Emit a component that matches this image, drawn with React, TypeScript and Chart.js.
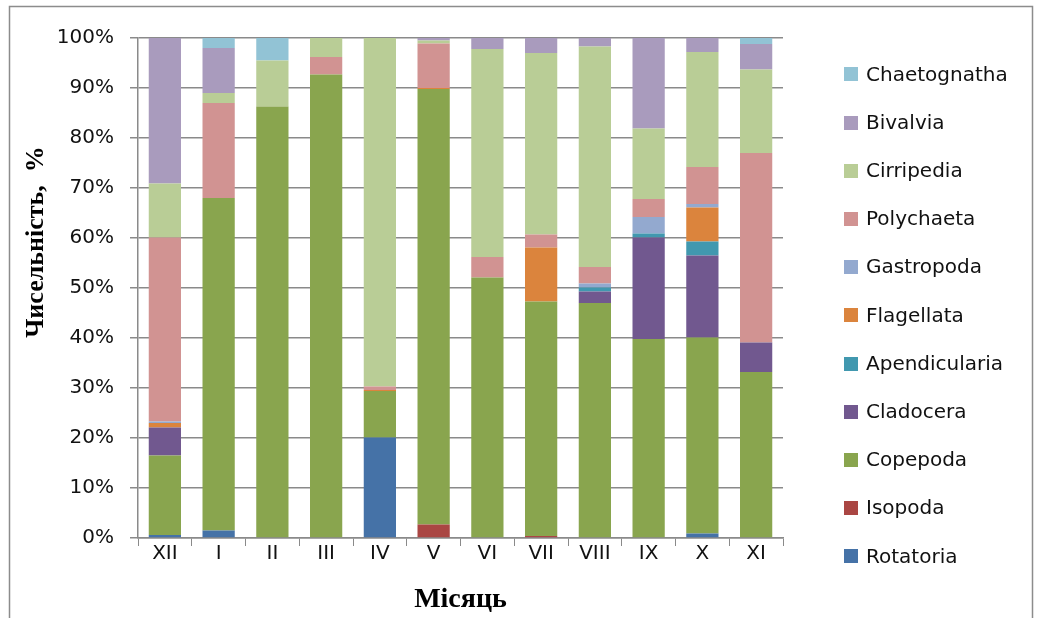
import React, { useEffect, useRef } from "react";
import { Chart, registerables } from "chart.js";

Chart.register(...registerables);

// Months of the sampling year, December through November
const months = ["XII", "I", "II", "III", "IV", "V", "VI", "VII", "VIII", "IX", "X", "XI"];

// Share of each taxon in total abundance, % (stacked bottom to top)
const rotatoria = [0.6, 1.5, 0, 0, 20.1, 0, 0, 0, 0, 0, 0.9, 0];
const isopoda = [0, 0, 0, 0, 0, 2.7, 0, 0.4, 0, 0, 0, 0];
const copepoda = [15.9, 66.5, 86.3, 92.7, 9.3, 87.1, 52.1, 46.9, 47.0, 39.8, 39.2, 33.2];
const cladocera = [5.6, 0, 0, 0, 0, 0, 0, 0, 2.3, 20.3, 16.4, 5.9];
const apendicularia = [0, 0, 0, 0, 0, 0, 0, 0, 0.8, 0.8, 2.8, 0];
const flagellata = [0.9, 0, 0, 0, 0.2, 0.2, 0, 10.8, 0, 0, 6.8, 0];
const gastropoda = [0.3, 0, 0, 0, 0, 0, 0, 0, 0.8, 3.3, 0.7, 0];
const polychaeta = [36.8, 19.0, 0, 3.5, 0.7, 8.9, 4.1, 2.6, 3.3, 3.6, 7.4, 37.9];
const cirripedia = [10.8, 2.0, 9.2, 3.8, 69.7, 0.6, 41.6, 36.3, 44.1, 14.1, 23.0, 16.7];
const bivalvia = [29.1, 9.0, 0, 0, 0, 0.5, 2.2, 3.0, 1.7, 18.1, 2.8, 5.1];
const chaetognatha = [0, 2.0, 4.5, 0, 0, 0, 0, 0, 0, 0, 0, 1.2];

const yTicks = [0, 10, 20, 30, 40, 50, 60, 70, 80, 90, 100];

const series = [
  { label: "Rotatoria", data: rotatoria, color: "#4572A7" },
  { label: "Isopoda", data: isopoda, color: "#AA4643" },
  { label: "Copepoda", data: copepoda, color: "#89A54E" },
  { label: "Cladocera", data: cladocera, color: "#71588F" },
  { label: "Apendicularia", data: apendicularia, color: "#4198AF" },
  { label: "Flagellata", data: flagellata, color: "#DB843D" },
  { label: "Gastropoda", data: gastropoda, color: "#93A9CF" },
  { label: "Polychaeta", data: polychaeta, color: "#D19392" },
  { label: "Cirripedia", data: cirripedia, color: "#B9CD96" },
  { label: "Bivalvia", data: bivalvia, color: "#A99BBD" },
  { label: "Chaetognatha", data: chaetognatha, color: "#92C3D5" },
];

const SANS = "'DejaVu Sans', sans-serif";
const SERIF = "'Liberation Serif', 'Times New Roman', serif";
const GRID = "#8a8a8a";

// Frame, axis titles and the legend (top item = last series)
const decor = {
  id: "decor",
  afterDraw(chart: any) {
    const ctx = chart.ctx as CanvasRenderingContext2D;
    const area = chart.chartArea;
    ctx.save();

    ctx.strokeStyle = "#8c8c8c";
    ctx.lineWidth = 1.5;
    ctx.beginPath();
    ctx.moveTo(9.5, 630);
    ctx.lineTo(9.5, 6.5);
    ctx.lineTo(1032.5, 6.5);
    ctx.lineTo(1032.5, 630);
    ctx.stroke();

    ctx.fillStyle = "#000";
    ctx.font = `bold 26px ${SERIF}`;
    ctx.textAlign = "center";
    ctx.textBaseline = "middle";
    ctx.save();
    ctx.translate(36, 242);
    ctx.rotate(-Math.PI / 2);
    ctx.fillText("Чисельність,  %", 0, 0);
    ctx.restore();

    ctx.font = `bold 28px ${SERIF}`;
    ctx.fillText("Місяць", (area.left + area.right) / 2, 600);

    ctx.font = `20px ${SANS}`;
    ctx.textAlign = "left";
    const items = [...series].reverse();
    items.forEach((s, i) => {
      const y = 74.3 + i * 48.2;
      ctx.fillStyle = s.color;
      ctx.fillRect(844, Math.round(y - 7), 14, 14);
      ctx.fillStyle = "#111";
      ctx.fillText(s.label, 866, y + 1);
    });
    ctx.restore();
  },
};

export default function App() {
  const ref = useRef<HTMLCanvasElement | null>(null);

  useEffect(() => {
    if (!ref.current) return;
    const chart = new Chart(ref.current, {
      type: "bar",
      data: {
        labels: months,
        datasets: series.map((s) => ({
          label: s.label,
          data: s.data,
          backgroundColor: s.color,
          borderWidth: 0,
          barPercentage: 0.6,
          categoryPercentage: 1.0,
        })),
      },
      options: {
        animation: false,
        responsive: false,
        devicePixelRatio: 1,
        layout: { padding: { left: 0, top: 38, right: 257, bottom: 0 } },
        plugins: {
          legend: { display: false },
          tooltip: { enabled: false },
          title: { display: false },
        },
        scales: {
          x: {
            stacked: true,
            afterFit: (scale: any) => {
              scale.height = 80;
            },
            grid: {
              display: true,
              drawOnChartArea: false,
              drawTicks: true,
              tickLength: 8,
              color: GRID,
              offset: true,
            },
            border: { display: true, color: GRID, width: 1.5 },
            ticks: {
              color: "#111",
              font: { family: SANS, size: 20 },
              padding: -4,
              maxRotation: 0,
              autoSkip: false,
            },
          },
          y: {
            stacked: true,
            min: 0,
            max: 100,
            afterFit: (scale: any) => {
              scale.width = 138;
            },
            afterBuildTicks: (scale: any) => {
              scale.ticks = yTicks.map((v) => ({ value: v }));
            },
            grid: {
              color: GRID,
              lineWidth: 1.5,
              tickLength: 8,
              drawTicks: true,
            },
            border: { display: true, color: GRID, width: 1.5 },
            ticks: {
              color: "#111",
              font: { family: SANS, size: 20 },
              padding: 16,
              callback: (v: any) => `${v}%`,
            },
          },
        },
      },
      plugins: [decor],
    });
    return () => chart.destroy();
  }, []);

  return (
    <div style={{ position: "absolute", left: 0, top: 0, width: 1040, height: 618, background: "#fff" }}>
      <canvas ref={ref} width={1040} height={618} style={{ width: 1040, height: 618, display: "block" }} />
    </div>
  );
}
